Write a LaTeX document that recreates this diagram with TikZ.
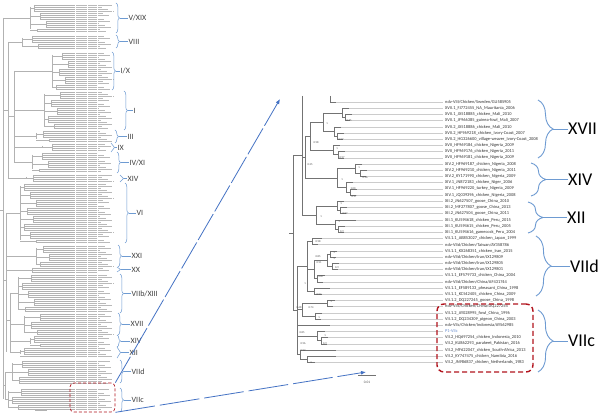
\documentclass[tikz,border=0pt]{standalone}
\usepackage{fontspec}
\setmainfont{Carlito}
\usetikzlibrary{decorations.pathreplacing}
\usetikzlibrary{arrows.meta}

\definecolor{zoomblue}{RGB}{68,114,196}
\definecolor{braceblue}{RGB}{110,155,210}
\definecolor{boxred}{RGB}{178,20,30}

% name, y top, y bottom, brace x, label x, text
\newcommand{\leftclade}[6]{%
  \draw[lbrace] (#4,#2) -- (#4,#3);
  \node[leftlab] (#1) at (#5,{(#2+#3)/2}) {#6};
  \draw[lbracetail] ({#4+3.5},{(#2+#3)/2}) -- (#1.west);
}
\newcommand{\rightclade}[6]{%
  \draw[rbrace] (#4,#2) -- (#4,#3);
  \node[rightlab] (#1) at (#5,{(#2+#3)/2}) {#6};
  \draw[rbracetail] ({#4+15},{(#2+#3)/2}) -- (#1.west);
}

\begin{document}
\begin{tikzpicture}[
    x=1pt, y=-1pt,
    tree/.style={gray!60, line width=0.3pt},
    lbar/.style={gray!55, line width=0.75pt, dash pattern=on 11pt off 1pt on 9pt off 1pt on 14pt off 1pt},
    branch/.style={black!55, line width=0.45pt},
    tipline/.style={gray!40, line width=0.3pt},
    leaf/.style={anchor=west, inner sep=0pt, font=\fontsize{4.4}{5}\selectfont, text=black!80},
    boot/.style={inner sep=0pt, font=\fontsize{2.8}{3}\selectfont, text=black!70},
    lbrace/.style={decorate, decoration={brace, amplitude=3.5pt}, braceblue, line width=0.5pt},
    lbracetail/.style={braceblue, line width=0.5pt},
    leftlab/.style={anchor=west, inner sep=0.5pt, font=\fontsize{8}{9}\selectfont, text=black!75},
    rbrace/.style={decorate, decoration={brace, amplitude=15pt}, braceblue, line width=0.9pt},
    rbracetail/.style={braceblue, line width=0.9pt},
    rightlab/.style={anchor=west, inner sep=0pt, font=\fontsize{18}{20}\selectfont},
    redbox/.style={draw=boxred, rounded corners=4pt, dash pattern=on 3pt off 2pt, line width=0.7pt, inner sep=0pt},
    zoom/.style={zoomblue, line width=0.8pt, -{Latex[length=5pt,width=4pt]}}
]
\useasboundingbox (0,0) rectangle (600,414);
\fill[white] (0,0) rectangle (600,414);

% --- LEFT: FULL TREE ---

% backbone
\draw[tree] (3,18) -- (3,399);
\draw[tree] (8,42) -- (8,178);
\draw[tree] (14,71) -- (14,162);
\draw[tree] (6,213) -- (6,352);
\draw[tree] (10,293) -- (10,352);
\draw[tree] (5,372) -- (5,399);
\draw[tree] (3,110) -- (8,110);
\draw[tree] (8,116) -- (14,116);
\draw[tree] (3,280) -- (6,280);
\draw[tree] (6,320) -- (10,320);
\draw[tree] (3,385) -- (5,385);
\draw[tree] (0,210) -- (3,210);

% clades: top, bottom, node x, parent x
\foreach \yt/\yb/\xb/\xp in {5/31/30/3, 36/48/22/8, 53/89/52/14, 92/128/44/14,
    131/141/36/14, 144/150/42/14, 153/171/32/14, 175/181/26/8, 184/242/20/6,
    246/266/36/6, 268/272/22/6, 275/311/18/10, 314/334/24/10, 336/346/30/10,
    348/356/20/10, 361/383/12/5, 389/409/8/5}{
  \pgfmathsetmacro{\ym}{(\yt+\yb)/2}
  \draw[tree] (\xp,\ym) -- (\xb,\ym);
  \draw[tree] (\xb,{\yt+2}) -- (\xb,{\yb-2});
  \pgfmathtruncatemacro{\ns}{floor((\yb-\yt)/8)}
  \foreach \s in {0,...,\ns}{
    \pgfmathsetmacro{\ya}{\yt+8*\s}
    \pgfmathsetmacro{\yz}{min(\ya+6,\yb)}
    \pgfmathsetmacro{\xs}{\xb+4+mod(7*\s+\xb,5)*3}
    \pgfmathtruncatemacro{\nk}{floor((\yz-\ya)/2)}
    \draw[tree] (\xb,{(\ya+\yz)/2}) -- (\xs,{(\ya+\yz)/2});
    \draw[tree] (\xs,\ya) -- (\xs,\yz);
    \foreach \k in {0,...,\nk}{
      \pgfmathsetmacro{\yl}{\ya+2*\k}
      \draw[tree] (\xs,\yl) -- (75,\yl);
      \draw[lbar] (76,\yl) -- ({76+22+mod(37*\yl,17)},\yl);
    }
  }
}

% scale bar
\draw[tree, line width=0.5pt] (35,410) -- (47,410);

% clade labels
\leftclade{cVXIX}{3}{33}{116}{128}{V/XIX}
\leftclade{cVIII}{35}{48}{116}{128}{VIII}
\leftclade{cIX}{52}{90}{112}{120}{I/X}
\leftclade{cI}{91}{130}{124}{133}{I}
\leftclade{cIII}{130}{143}{115}{127}{III}
\leftclade{cIXb}{143}{152}{111}{117}{IX}
\leftclade{cIVXI}{152}{173}{117}{129}{IV/XI}
\leftclade{cXIVa}{175}{182}{120}{127}{XIV}
\leftclade{cVI}{183}{243}{125}{136}{VI}
\leftclade{cXXI}{245}{267}{118}{131}{XXI}
\leftclade{cXX}{267}{272}{117}{131}{XX}
\leftclade{cVIIb}{274}{313}{120}{131}{VIIb/XIII}
\leftclade{cXVIIa}{313}{335}{118}{130}{XVII}
\leftclade{cXIVb}{335}{347}{117}{130}{XIV}
\leftclade{cXIIa}{347}{358}{117}{129}{XII}
\leftclade{cVIIda}{360}{383}{120}{131}{VIId}
\leftclade{cVIIca}{388}{412}{120}{131}{VIIc}

\node[redbox, minimum width=45pt, minimum height=29pt] (boxL) at (92.5,397.5) {};

% --- RIGHT: ZOOMED SUBTREE ---

% internal nodes: parent x, x, top, bottom
\foreach \xp/\x/\ya/\yb in {342/345/114.4/120.6, 323/342/108.2/117.5,
    334/337/133/139.2, 323/334/126.8/136.1, 310/323/112.9/131.5,
    333/338/151.6/157.8, 310/333/145.4/154.7, 305/310/122.2/150,
    355/360/170.2/176.4, 337/355/164/173.3, 346/350/188.8/195,
    337/346/182.6/191.9, 305/337/168.7/187.2, 302/305/136.1/178,
    337/340/207.4/213.6, 316/337/201.2/210.5, 335/338/226/232.2,
    316/335/219.8/229.1, 302/316/205.9/224.5, 293/302/96/215.2,
    307/312/238.4/244.6, 327/330/250.8/257, 327/332/263.2/269.4,
    314/327/253.9/266.3, 314/317/275.6/281.8, 307/314/260.1/278.7,
    307/314/288/294.2, 297/307/241.5/291.1, 302/327/300.4/306.6,
    302/315/312.8/319, 297/302/303.5/315.9, 317/321/337.6/343.8,
    297/317/331.4/340.7, 300/307/356.2/362.4, 297/300/350/359.3,
    293/297/266.3/354.7}{
  \draw[branch] (\xp,{(\ya+\yb)/2}) -- (\x,{(\ya+\yb)/2});
  \draw[branch] (\x,\ya) -- (\x,\yb);
}
\draw[branch] (293,155.6) -- (293,310.5);
\draw[branch] (289,233) -- (293,233);
\draw[branch] (330,96) -- (330,102);

% leaf branches: index, start, end
\foreach \i/\xs/\xe in {1/330/336, 2/342/349, 3/345/352, 4/345/350, 5/334/341,
    6/337/344, 7/337/343, 8/333/340, 9/338/345, 10/338/344, 11/355/362,
    12/360/367, 13/360/366, 14/346/353, 15/350/357, 16/350/356, 17/337/344,
    18/340/347, 19/340/346, 20/335/356, 21/338/345, 22/338/344, 23/312/322,
    24/312/318, 25/330/337, 26/330/336, 27/332/339, 28/332/338, 29/317/325,
    30/317/323, 31/314/330, 32/314/322, 33/327/335, 34/327/333, 35/315/322,
    36/315/321, 37/297/330, 38/317/325, 39/321/328, 40/321/327, 41/300/336,
    42/307/336, 43/307/315}{
  \draw[branch] (\xs,{102+6.2*(\i-1)}) -- (\xe,{102+6.2*(\i-1)});
  \draw[tipline] (\xe,{102+6.2*(\i-1)}) -- (443,{102+6.2*(\i-1)});
}

% leaf labels
\foreach \i/\txt in {1/{ndv-VIII/Chicken/Sweden/GU585905},
    2/XVII.1\_FJ772455\_NA\_Mauritania\_2006,
    3/XVII.1\_JX518885\_chicken\_Mali\_2010,
    4/XVII.1\_JF966385\_guinea-fowl\_Mali\_2007,
    5/XVII.2\_JX518886\_chicken\_Mali\_2010,
    6/XVII.2\_HF969218\_chicken\_Ivory-Coast\_2007,
    7/XVII.2\_HG326600\_village-weaver\_Ivory-Coast\_2008,
    8/XVII\_HF969184\_chicken\_Nigeria\_2009,
    9/XVII\_HF969176\_chicken\_Nigeria\_2011,
    10/XVII\_HF969181\_chicken\_Nigeria\_2009,
    11/XIV.2\_HF969187\_chicken\_Nigeria\_2008,
    12/XIV.2\_HF969210\_chicken\_Nigeria\_2011,
    13/XIV.2\_KY171990\_chicken\_Nigeria\_2009,
    14/XIV.1\_JN872183\_chicken\_Niger\_2006,
    15/XIV.1\_HF969220\_turkey\_Nigeria\_2009,
    16/XIV.1\_JQ039396\_chicken\_Nigeria\_2008,
    17/XII.2\_JN627507\_goose\_China\_2010,
    18/XII.2\_MF277807\_goose\_China\_2013,
    19/XII.2\_JN627504\_goose\_China\_2011,
    20/XII.1\_KU594618\_chicken\_Peru\_2015,
    21/XII.1\_KU594615\_chicken\_Peru\_2005,
    22/XII.1\_KU594616\_gamecock\_Peru\_2004,
    23/VII.1.1\_AB853027\_chicken\_Japan\_1999,
    24/{ndv-VIId/Chicken/Taiwan/AY358786},
    25/VII.1.1\_KX268351\_chicken\_Iran\_2015,
    26/{ndv-VIId/Chicken/Iran/JX129809},
    27/{ndv-VIId/Chicken/Iran/JX129805},
    28/{ndv-VIId/Chicken/Iran/JX129801},
    29/VII.1.1\_EF579733\_chicken\_China\_2004,
    30/{ndv-VIId/Chicken/China/AF431744},
    31/VII.1.1\_EF589133\_pheasant\_China\_1998,
    32/VII.1.1\_KC542405\_chicken\_China\_2009,
    33/VII.1.2\_DQ227245\_goose\_China\_1998,
    34/{ndv-VIIc/Chicken/China/DQ227254},
    35/VII.1.2\_AY028995\_fowl\_China\_1996,
    36/VII.1.2\_DQ234309\_pigeon\_China\_2003,
    37/{ndv-VIIc/Chicken/Indonesia/AY562985},
    38/\textcolor{zoomblue!80}{P1-VIIc},
    39/VII.2\_HQ697254\_chicken\_Indonesia\_2010,
    40/VII.2\_KU862293\_parakeet\_Pakistan\_2016,
    41/VII.2\_MF622047\_chicken\_South-Africa\_2013,
    42/VII.2\_KY747475\_chicken\_Namibia\_2016,
    43/VII.2\_JN986837\_chicken\_Netherlands\_1983}{
  \node[leaf] (leaf\i) at (445,{102+6.2*(\i-1)}) {\txt};
}

% support values
\foreach \x/\y/\v [count=\n] in {327/124/1, 349/121/0.75, 341/140/0.97, 337/149/1,
    342/158/0.97, 316/143/0.98, 310/165/0.35, 359/168/1, 365/178/0.96, 342/180/1,
    353/189/1.00, 354/197/0.97, 321/217/1, 341/204/1, 345/214/0.92, 339/222/1,
    342/232/0.9, 318/242/0.98, 334/253/1, 334/259/1, 337/268/0.9, 318/257/0.85,
    319/263/0.91, 321/277/0.87, 305/284/1, 319/295/0.94, 331/302/1, 299/308/0.68,
    311/308/0.74, 319/318/1, 302/333/0.85, 325/336/1, 325/344/0.9, 303/344/0.96,
    303/351/0.92, 311/363/1}{
  \node[boot] (bs\n) at (\x,\y) {\v};
}

% scale bar
\draw[branch, line width=0.6pt] (358,375) -- (376,375);
\node[boot, font=\fontsize{3.5}{4}\selectfont] (scalebar) at (367,382) {0.01};

% clades
\rightclade{cXVII}{100}{158}{538}{568}{XVII}
\rightclade{cXIV}{163}{196}{531}{568}{XIV}
\rightclade{cXII}{202}{233}{528}{567}{XII}
\rightclade{cVIId}{236}{296}{536}{570}{VIId}
\rightclade{cVIIc}{310}{372}{538}{568}{VIIc}

\node[redbox, line width=1.4pt, dash pattern=on 5pt off 3pt, rounded corners=7pt,
  minimum width=96pt, minimum height=68pt] (boxR) at (485,338) {};

% --- ZOOM ARROWS ---
\coordinate (zoomTop) at (280,99);
\coordinate (barTop) at (366,372);
\draw[zoom, dash pattern=on 30pt off 3pt] (boxL.north east) -- (zoomTop);
\draw[zoom, dash pattern=on 40pt off 5pt] (boxL.south east) -- (barTop);

\end{tikzpicture}
\end{document}
